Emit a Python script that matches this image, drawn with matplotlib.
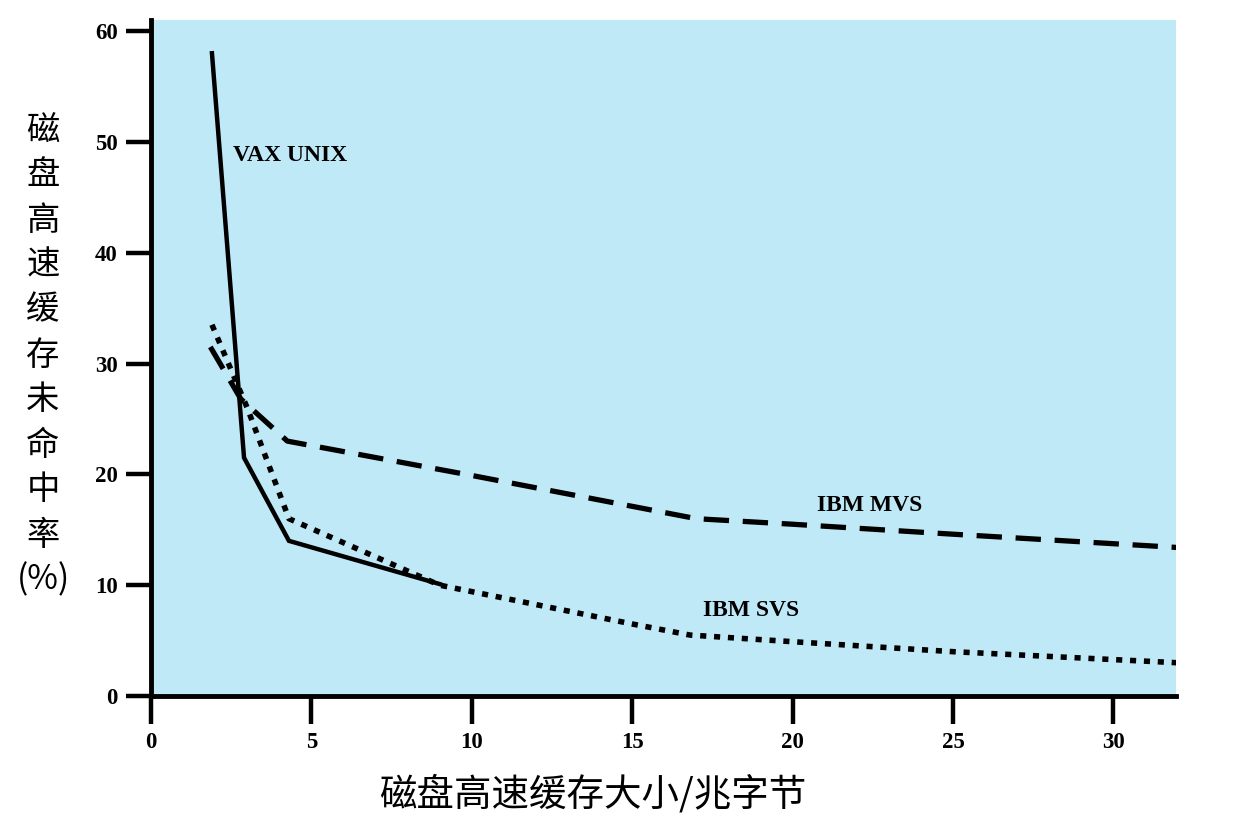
import matplotlib
matplotlib.use("Agg")
import matplotlib.pyplot as plt

# data
vax_x = [1.9, 2.9, 4.3, 9.0]
vax_y = [58.0, 21.5, 14.0, 10.1]
mvs_x = [1.85, 2.8, 4.25, 10.0, 17.0, 20.0, 25.0, 32.0]
mvs_y = [31.5, 26.8, 23.0, 19.9, 16.0, 15.5, 14.6, 13.4]
svs_x = [1.9, 3.0, 4.3, 9.0, 15.0, 16.8, 20.0, 25.0, 32.0]
svs_y = [33.5, 26.0, 16.0, 10.0, 6.5, 5.5, 4.9, 4.0, 3.0]

xticks = [0, 5, 10, 15, 20, 25, 30]
yticks = [0, 10, 20, 30, 40, 50, 60]
ylabel_chars = ["磁", "盘", "高", "速", "缓", "存", "未", "命", "中", "率", "(%)"]
xlabel = "磁盘高速缓存大小/兆字节"

bg = "#c0e9f8"
cjk = ["Noto Sans CJK SC", "DejaVu Sans"]
serif = "Liberation Serif"

fig = plt.figure(figsize=(12.36, 8.35), dpi=100)
ax = fig.add_axes([151/1236, 1-696/835, (1176-151)/1236, (696-20)/835])
ax.set_facecolor(bg)

ax.plot(vax_x, vax_y, color="black", lw=3.2, solid_joinstyle="miter")
ax.plot(mvs_x, mvs_y, color="black", lw=3.8, dashes=(4.8, 2.6), dash_capstyle="butt")
ax.plot(svs_x, svs_y, color="black", lw=4.0, dashes=(1.1, 1.4), dash_capstyle="butt")

ax.text(2.55, 48.8, "VAX UNIX", fontfamily=serif, fontweight="bold", fontsize=17, va="center")
ax.text(20.75, 17.2, "IBM MVS", fontfamily=serif, fontweight="bold", fontsize=17, va="center")
ax.text(17.2, 7.7, "IBM SVS", fontfamily=serif, fontweight="bold", fontsize=17, va="center")

ax.set_xlim(0, 31.95)
ax.set_ylim(0, 61.0)
ax.set_xticks(xticks)
ax.set_yticks(yticks)
ax.set_xticklabels([str(t) for t in xticks], fontfamily=serif, fontweight="bold", fontsize=16.5)
ax.set_yticklabels([str(t) for t in yticks], fontfamily=serif, fontweight="bold", fontsize=16.5)
ax.tick_params(axis="both", direction="out", length=18, width=3.2, pad=6)
ax.tick_params(axis="x", length=20)
for s in ["top", "right"]:
    ax.spines[s].set_visible(False)
for s in ["left", "bottom"]:
    ax.spines[s].set_linewidth(3.5)

# vertical y label, one character per line
for i, ch in enumerate(ylabel_chars):
    fig.text(43/1236, 1-(130 + i*45)/835, ch, family=cjk, fontsize=24,
             ha="center", va="center")

fig.text(593/1236, 1-795/835, xlabel, family=cjk, fontsize=27, ha="center", va="center")

fig.savefig("out.png", dpi=100)
